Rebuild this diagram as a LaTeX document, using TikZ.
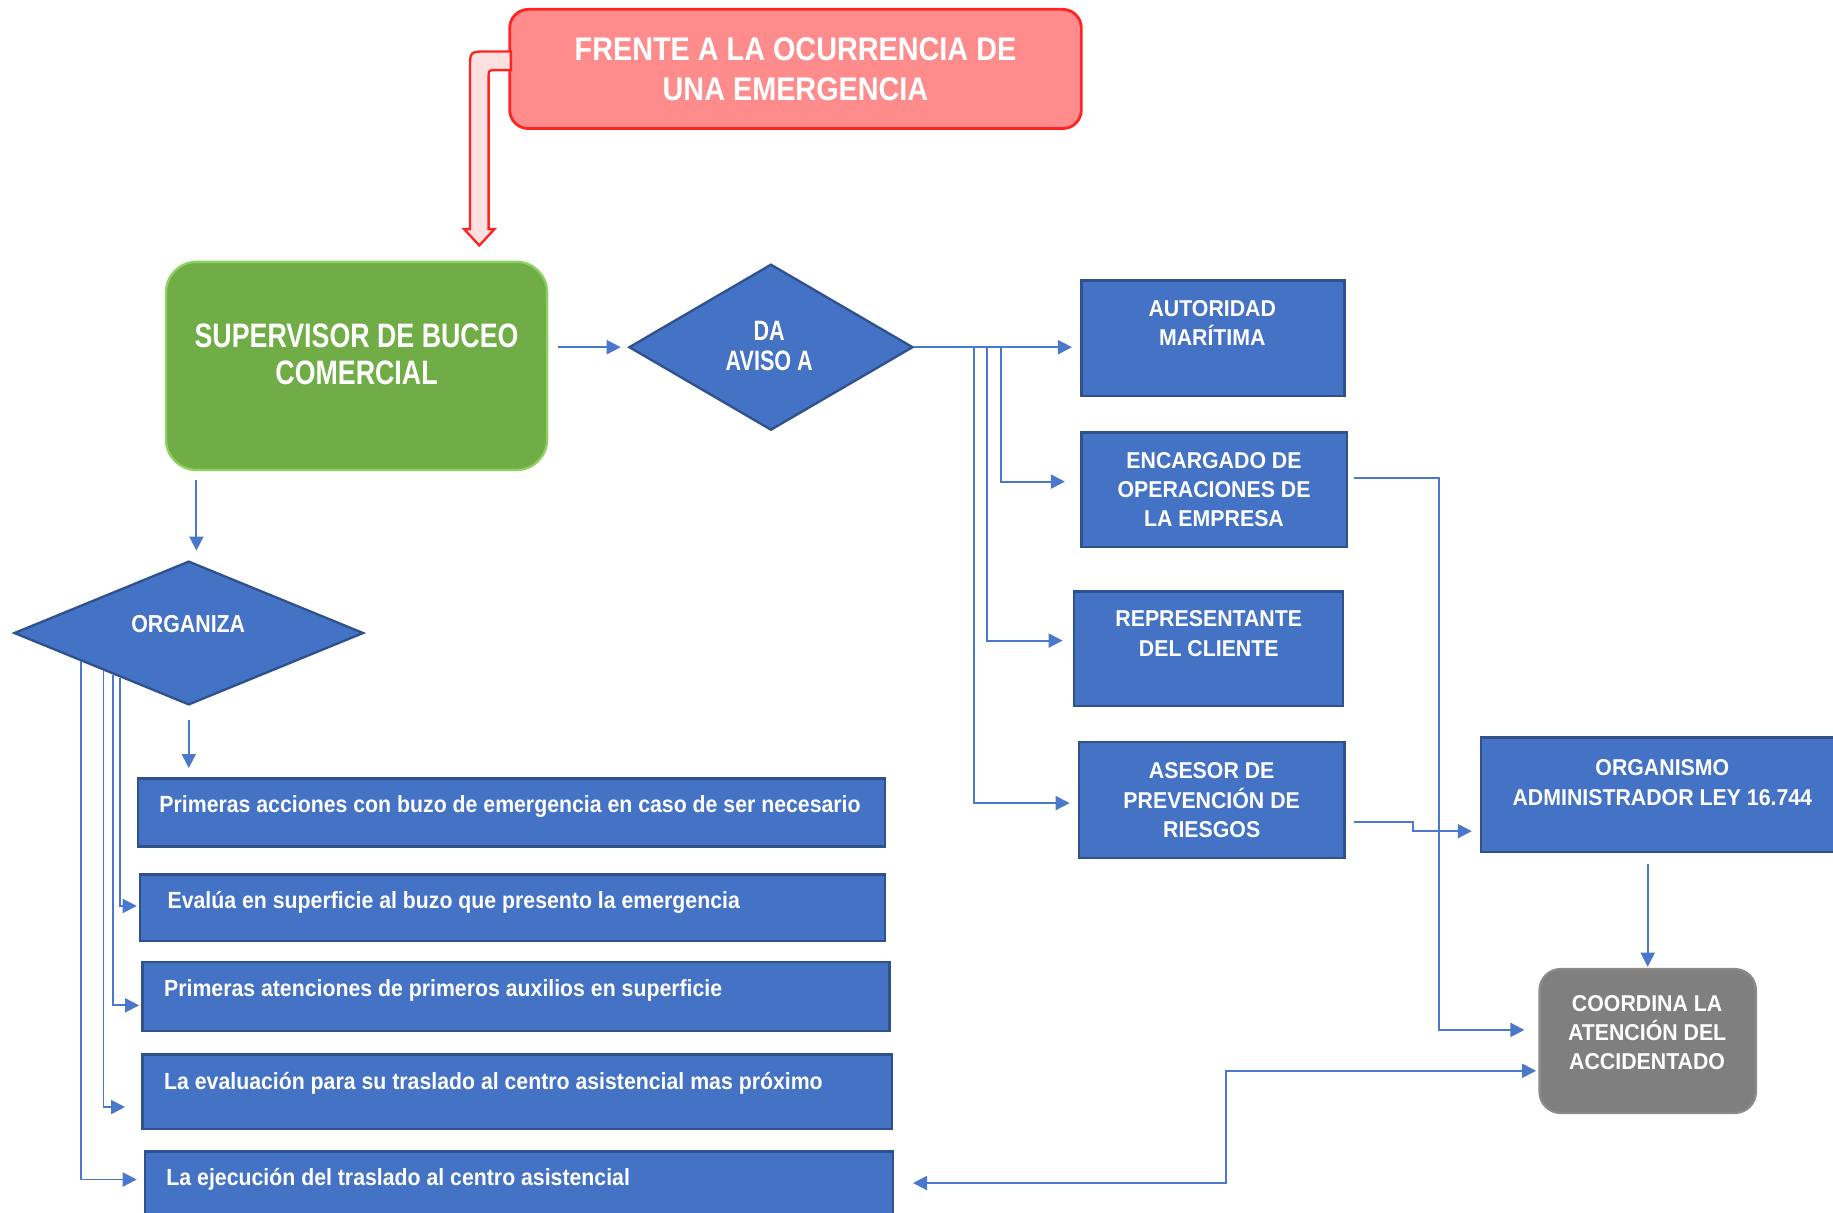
\documentclass[tikz,border=0pt]{standalone}
\usepackage{fontspec}
\setmainfont{Liberation Sans}
\newfontfamily\fhead{Liberation Sans}[FakeStretch=0.88]
\newfontfamily\fgreen{Liberation Sans}[FakeStretch=0.79]
\newfontfamily\fda{Liberation Sans}[FakeStretch=0.77]
\newfontfamily\forg{Liberation Sans}[FakeStretch=0.87]
\newfontfamily\fcap{Liberation Sans}[FakeStretch=0.93]
\newfontfamily\flow{Liberation Sans}[FakeStretch=0.91]
\usetikzlibrary{shapes.geometric,arrows.meta,calc}
\definecolor{blueF}{HTML}{4472C4}
\definecolor{blueD}{HTML}{2F528F}
\definecolor{lineC}{HTML}{4A78CC}
\definecolor{redF}{HTML}{FF8C8C}
\definecolor{redD}{HTML}{FF2424}
\definecolor{greenF}{HTML}{70AD47}
\definecolor{greenD}{HTML}{8FD163}
\definecolor{grayF}{HTML}{7F7F7F}
\definecolor{grayD}{HTML}{8A8A8A}
\tikzset{
  bx/.style={rectangle, fill=blueF, draw=blueD, line width=1pt, inner sep=0pt},
  dia/.style={diamond, fill=blueF, draw=blueD, line width=1pt, inner sep=0pt},
  redbox/.style={rectangle, rounded corners=8pt, fill=redF, draw=redD, line width=1.2pt,
    text=white, align=center, font=\fhead\bfseries\fontsize{14}{17}\selectfont},
  greenbox/.style={rectangle, rounded corners=13pt, fill=greenF, draw=greenD, line width=1pt},
  graybox/.style={rectangle, rounded corners=9pt, fill=grayF, draw=grayD, line width=1pt},
  greent/.style={text=white, align=center, inner sep=0pt, font=\fgreen\bfseries\fontsize{14.5}{16}\selectfont},
  dat/.style={text=white, align=center, inner sep=0pt, font=\fda\bfseries\fontsize{12}{13}\selectfont},
  orgt/.style={text=white, align=center, inner sep=0pt, font=\forg\bfseries\fontsize{10.5}{12}\selectfont},
  capt/.style={text=white, align=center, font=\fcap\bfseries\fontsize{9.8}{12.5}\selectfont},
  lowt/.style={text=white, inner sep=0pt, anchor=west, font=\flow\bfseries\fontsize{10}{12}\selectfont},
  conn/.style={draw=lineC, line width=0.8pt, -{Triangle[length=6pt,width=6pt]}},
  conn2/.style={draw=lineC, line width=0.8pt, {Triangle[length=6pt,width=6pt]}-{Triangle[length=6pt,width=6pt]}},
}
\begin{document}
\begin{tikzpicture}[x=0.5pt,y=-0.5pt]
\path[use as bounding box] (0,0) rectangle (1568,1037);
\clip (0,0) rectangle (1568,1037);

% top
\node[redbox, minimum width=244.5pt, minimum height=51pt] (red) at (680.5,59) {FRENTE A LA OCURRENCIA DE\\UNA EMERGENCIA};
\draw[draw=redD, line width=1pt, fill=red!12]
  (437,44) -- (417,44) .. controls (402,44) .. (402,59) -- (402,196) -- (397,196) -- (410,210)
  -- (423,196) -- (418,196) -- (418,66) .. controls (418,60) .. (424,60) -- (437,60) -- cycle;

% supervisor
\node[greenbox, minimum width=163pt, minimum height=89pt] (sup) at (305,313) {};
\node[greent] (supt) at (305,303) {SUPERVISOR DE BUCEO\\COMERCIAL};

\node[dia, minimum width=121.5pt, minimum height=71pt] (da) at (659.5,297) {};
\node[dat] (dat) at (658,296) {DA\\AVISO A};

\node[dia, minimum width=149.5pt, minimum height=61.5pt] (org) at (161.5,541.5) {};
\node[orgt] (orgt) at (161,534) {ORGANIZA};

% right boxes
\node[bx, minimum width=112.5pt, minimum height=49.5pt] (aut) at (1037.5,289.5) {};
\node[capt] (autt) at (1037,276.5) {AUTORIDAD\\MARÍTIMA};
\node[bx, capt, minimum width=113.5pt, minimum height=49pt] (enc) at (1038.5,419) {ENCARGADO DE\\OPERACIONES DE\\LA EMPRESA};
\node[bx, minimum width=115pt, minimum height=49pt] (rep) at (1034,555) {};
\node[capt] (rept) at (1034,542) {REPRESENTANTE\\DEL CLIENTE};
\node[bx, capt, minimum width=113.5pt, minimum height=49.5pt] (ase) at (1036.5,684.5) {ASESOR DE\\PREVENCIÓN DE\\RIESGOS};
\node[bx, minimum width=156.5pt, minimum height=49pt] (oam) at (1423.5,680) {};
\node[capt] (oamt) at (1422,669.5) {ORGANISMO\\ADMINISTRADOR LEY 16.744};
\node[graybox, minimum width=92.5pt, minimum height=61.5pt] (coo) at (1409.5,890.5) {};
\node[capt] (coot) at (1409,883.5) {COORDINA LA\\ATENCIÓN DEL\\ACCIDENTADO};

% lower boxes
\node[bx, minimum width=319.5pt, minimum height=29pt] (t1) at (437.5,695) {};
\node[lowt] (t1t) at (136,690) {Primeras acciones con buzo de emergencia en caso de ser necesario};
\node[bx, minimum width=318.5pt, minimum height=28.5pt] (t2) at (438.5,776.5) {};
\node[lowt] (t2t) at (143,772) {Evalúa en superficie al buzo que presento la emergencia};
\node[bx, minimum width=319.5pt, minimum height=29.5pt] (t3) at (441.5,852.5) {};
\node[lowt] (t3t) at (140,847) {Primeras atenciones de primeros auxilios en superficie};
\node[bx, minimum width=320.5pt, minimum height=32pt] (t4) at (442.5,934) {};
\node[lowt] (t4t) at (140,927) {La evaluación para su traslado al centro asistencial mas próximo};
\node[bx, minimum width=320pt, minimum height=30pt] (t5) at (444,1015) {};
\node[lowt] (t5t) at (142,1009) {La ejecución del traslado al centro asistencial};

% connectors top
\draw[conn, shorten >=3pt] ($(sup.east |- da.west)+(8,0)$) -- (da.west);
\draw[conn, shorten >=3.5pt] (da.east) -- (aut.west |- da.east);
\coordinate (b1) at ($(da.east)+(74,0)$);
\coordinate (b2) at ($(da.east)+(62,0)$);
\coordinate (b3) at ($(da.east)+(51,0)$);
\draw[conn, shorten >=6.5pt] (b1) |- ($(enc.west)+(0,-7)$);
\draw[conn, shorten >=4.5pt] (b2) |- ($(rep.west)+(0,-7)$);
\draw[conn, shorten >=3.5pt] (b3) |- ($(ase.west)+(0,2.5)$);

\draw[conn, shorten >=6pt] ($(enc.east)+(5,-10)$) -- ++(73,0) |- ($(coo.west)+(0,-9.5)$);
\draw[conn, shorten >=3.5pt] ($(ase.east)+(7,18.5)$) -- ++(51,0) -- ++(0,8) -- ($(oam.west)+(0,31)$);
\draw[conn, shorten >=0.5pt] ($(coo.north |- oam.south)+(0,9)$) -- (coo.north);
\draw[conn2, shorten >=1pt] ($(t5.east)+(16,-3)$) -- ++(268,0) |- ($(coo.west)+(0,25.5)$);

% left side
\draw[conn] ($(sup.south)+(-137,8)$) -- ($(org.north)+(6.5,-8)$);
\draw[conn] ($(org.south)+(0,12)$) -- ($(t1.north -| org.south)+(0,-8)$);
\draw[conn, shorten >=1pt] ($(org.west)!0.609!(org.south)$) |- ($(t2.west)+(0,-1.5)$);
\draw[conn, shorten >=1pt] ($(org.west)!0.569!(org.south)$) |- ($(t3.west)+(0,7.5)$);
\draw[conn, shorten >=7pt] ($(org.west)!0.515!(org.south)$) |- ($(t4.west)+(0,13)$);
\draw[conn, shorten >=3pt] ($(org.west)!0.388!(org.south)$) |- ($(t5.west)+(0,-6)$);
\end{tikzpicture}
\end{document}
